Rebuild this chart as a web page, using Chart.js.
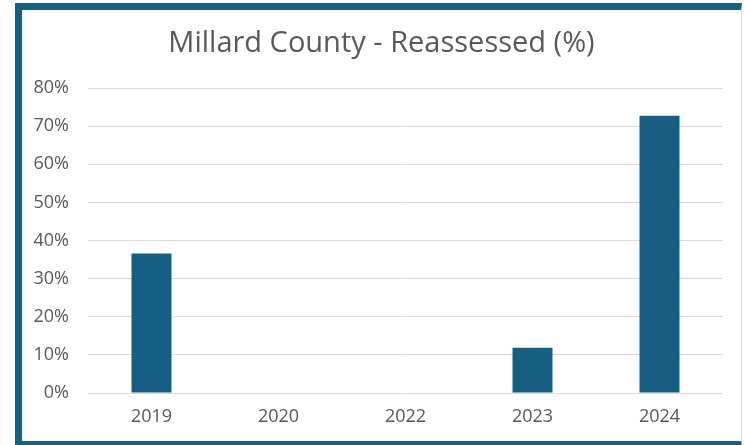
<!DOCTYPE html>
<html>
<head>
<meta charset="utf-8">
<script src="https://cdn.jsdelivr.net/npm/chart.js@4"></script>
<style>
  html, body { margin: 0; padding: 0; background: #ffffff; }
  body { width: 744px; height: 445px; overflow: hidden; position: relative; }
  #frame {
    position: absolute; left: 15px; top: 3px;
    width: 719px; height: 431px;
    border-top: 7px solid #166082;
    border-left: 7px solid #166082;
    border-bottom: 7px solid #166082;
    border-right: 1px solid #d9d9d9;
    background: #ffffff;
  }
  #wrap { position: relative; width: 719px; height: 431px; }
</style>
</head>
<body>
<div id="frame"><div id="wrap"><canvas id="chart"></canvas></div></div>
<script>
// Share of parcels reassessed in Millard County, by year
const years = ['2019', '2020', '2022', '2023', '2024'];
const reassessedPct = [36.6, 0, 0, 11.9, 72.7];
const yTicks = [0, 10, 20, 30, 40, 50, 60, 70, 80];
const chartTitle = 'Millard County - Reassessed (%)';

const textColor = '#595959';
const fontFamily = '"Open Sans", "Liberation Sans", sans-serif';

// Title centred on the whole canvas rather than on the padded layout box
const centeredTitle = {
  id: 'centeredTitle',
  afterDraw(chart) {
    const ctx = chart.ctx;
    ctx.save();
    ctx.font = '29px ' + fontFamily;
    ctx.fillStyle = textColor;
    ctx.textAlign = 'center';
    ctx.textBaseline = 'middle';
    ctx.fillText(chartTitle, chart.width / 2, 33.5);
    ctx.restore();
  }
};

new Chart(document.getElementById('chart'), {
  type: 'bar',
  data: {
    labels: years,
    datasets: [{
      label: 'Reassessed (%)',
      data: reassessedPct,
      backgroundColor: '#156082',
      borderWidth: 0,
      categoryPercentage: 1,
      barPercentage: 0.315
    }]
  },
  plugins: [centeredTitle],
  options: {
    responsive: true,
    maintainAspectRatio: false,
    animation: false,
    layout: { padding: { top: 78, right: 18, left: 0, bottom: 0 } },
    plugins: {
      legend: { display: false },
      tooltip: { enabled: false },
      title: { display: false }
    },
    scales: {
      x: {
        grid: { display: false, drawTicks: false },
        border: { display: false },
        ticks: { color: textColor, font: { family: fontFamily, size: 18 }, padding: 13 },
        afterFit: s => { s.height = 48; }
      },
      y: {
        min: yTicks[0],
        max: yTicks[yTicks.length - 1],
        afterBuildTicks: s => { s.ticks = yTicks.map(v => ({ value: v })); },
        grid: { color: '#d9d9d9', lineWidth: 1, drawTicks: false },
        border: { display: false },
        ticks: {
          color: textColor,
          font: { family: fontFamily, size: 18 },
          padding: 19,
          callback: v => v + '%'
        },
        afterFit: s => { s.width = 66; }
      }
    }
  }
});
</script>
</body>
</html>
